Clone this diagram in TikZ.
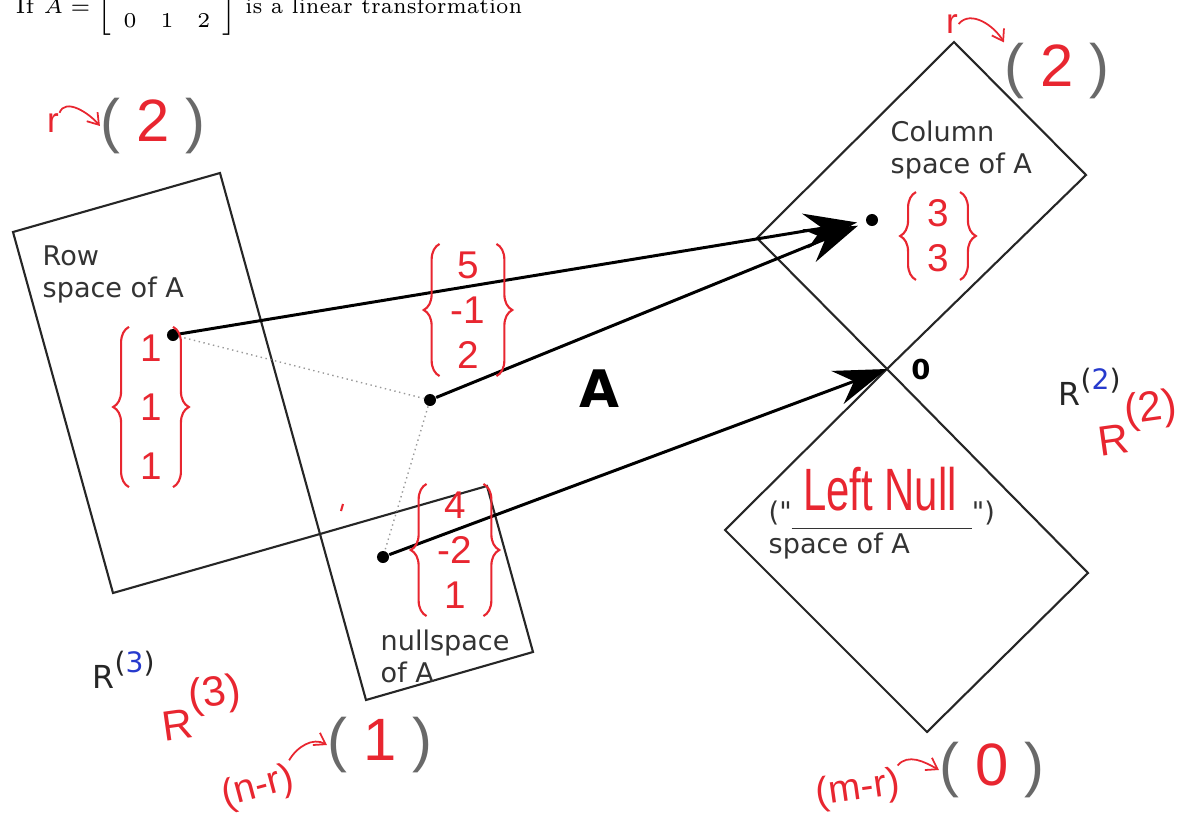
\documentclass[tikz,border=0pt]{standalone}
\usepackage{fontspec}
\usepackage{amsmath}
\usepackage{graphicx}
\usepackage{tikz}
\usetikzlibrary{arrows.meta, positioning, calc, decorations.pathreplacing}
\newfontfamily\printfont{DejaVu Sans}
\newfontfamily\penfont{Liberation Sans}
\definecolor{InkRed}{RGB}{232, 38, 48}
\definecolor{InkBlue}{RGB}{38, 58, 205}
\definecolor{Pencil}{RGB}{105, 105, 105}
\newcommand{\dimnum}[1]{{\color{Pencil}(}\hspace{4.5pt}{\color{InkRed}#1}\hspace{4.5pt}{\color{Pencil})}}

\begin{document}
\begin{tikzpicture}[
    x=0.01cm, y=-0.01cm,
    every node/.style={inner sep=0pt},
    subspace/.style={draw=black!85, line width=0.6pt},
    caption/.style={font=\printfont\fontsize{7.7}{9.2}\selectfont, text=black!80, align=left},
    vecdot/.style={circle, fill=black, minimum size=0.12cm},
    mapsto/.style={draw=black, line width=0.85pt, -{Stealth[length=15pt, width=10pt, inset=5pt]}},
    pen/.style={text=InkRed, font=\penfont\fontsize{11}{12.8}\selectfont},
    penvec/.style={pen, align=center, inner xsep=3pt, inner ysep=2pt},
    penbrace/.style={draw=InkRed, line width=0.6pt, decorate, decoration={brace, amplitude=4.5pt}},
    dimtext/.style={font=\penfont\fontsize{17}{17}\selectfont},
    curl/.style={draw=InkRed, line width=0.5pt, -{Straight Barb[length=3pt, width=4pt]}}
]
\useasboundingbox (0,0) rectangle (1184,821);

% question line at the top of the page
\node[anchor=base west, font=\fontsize{6.4}{7.6}\selectfont] (task) at (15,14)
  {If $A = \setlength{\arraycolsep}{3.4pt}\left[\begin{array}{ccc}\phantom{0} & & \\ 0 & 1 & 2\end{array}\right]$ \scalebox{0.9}[1]{is a linear transformation}};

% row space and nullspace
\coordinate (o3) at (320,534);
\draw[subspace] (13,232) -- (220,173) -- (o3) -- (113,593) -- cycle;
\draw[subspace] (o3) -- (487,486) -- (533,652) -- (366,700) -- cycle;

% column space and left nullspace
\coordinate (zero) at (887,369);
\draw[subspace] (954,42) -- (1086,175) -- (zero) -- (757,238) -- cycle;
\draw[subspace] (zero) -- (1088,573) -- (927,732) -- (725,530) -- cycle;

\node[caption, anchor=north west] (rowlbl) at (42,245) {Row\\space of A};
\node[caption, anchor=north west] (collbl) at (890,120) {Column\\space of A};
\node[caption, anchor=north west] (nulllbl) at (380,629) {nullspace\\of A};
\node[caption, anchor=north west] (leftlbl) at (768,500)
  {(\textquotedbl\rule[-2.3pt]{1.8cm}{0.5pt}\textquotedbl)\\space of A};

\node[font=\printfont\bfseries\fontsize{14.7}{15}\selectfont] (amap) at (600,389) {A};
\node[font=\printfont\bfseries\fontsize{7.8}{8}\selectfont] (zerolbl) at (921,370) {0};
\node[anchor=base west, font=\printfont\fontsize{9}{10}\selectfont, text=black!85] (rtwo) at (1058,405)
  {R\raisebox{4.5pt}{\fontsize{8}{9}\selectfont(\textcolor{InkBlue}{2})}};
\node[anchor=base west, font=\printfont\fontsize{9}{10}\selectfont, text=black!85] (rthree) at (92,688)
  {R\raisebox{4.5pt}{\fontsize{8}{9}\selectfont(\textcolor{InkBlue}{3})}};

% vectors
\node[vecdot] (xr) at (173,335) {};
\node[vecdot] (xfull) at (430,400) {};
\node[vecdot] (xn) at (383,557) {};
\node[vecdot] (bvec) at (872,220) {};

\draw[black!40, line width=0.4pt, densely dotted] (xr) -- (xfull) -- (xn);
\draw[mapsto, shorten >=2.4pt] (xr) -- (bvec);
\draw[mapsto, shorten >=2.4pt] (xfull) -- (bvec);
\draw[mapsto] (xn) -- (zero);

% handwritten notes
\node[penvec] (vr) at (151,407) {1\\[4pt]1\\[4pt]1};
\node[penvec] (vx) at (468,310) {5\\-1\\2};
\node[penvec] (vn) at (455,550) {4\\-2\\1};
\node[penvec] (vb) at (938,236) {3\\3};
\foreach \v in {vr, vx, vn, vb} {
  \draw[penbrace] (\v.south west) -- (\v.north west);
  \draw[penbrace] (\v.north east) -- (\v.south east);
}
\node[pen, font=\penfont\fontsize{17}{17}\selectfont] (leftnull) at (880,489) {\scalebox{0.7}[1]{Left Null}};
\node[pen, anchor=base west, rotate=8, font=\penfont\fontsize{12}{12}\selectfont] (rtwopen) at (1100,457)
  {R\raisebox{8pt}{(2)}};
\node[pen, anchor=base west, rotate=8, font=\penfont\fontsize{12}{12}\selectfont] (rthreepen) at (164,742)
  {R\raisebox{8pt}{(3)}};
\draw[InkRed, line width=0.6pt] (343,504) -- (341,511);

\node[dimtext] (rowdim) at (153,126) {\dimnum{2}};
\node[pen, font=\penfont\fontsize{10}{10}\selectfont] (rowr) at (53,123) {r};
\draw[curl] (rowr.north east) to[out=70, in=130] (rowdim.west);
\node[dimtext] (coldim) at (1057,71) {\dimnum{2}};
\node[pen, font=\penfont\fontsize{10}{10}\selectfont] (colr) at (952,24) {r};
\draw[curl] (colr.east) to[out=50, in=120] (coldim.north west);
\node[dimtext] (nulldim) at (380,745) {\dimnum{1}};
\node[pen, rotate=15, font=\penfont\fontsize{11}{11}\selectfont] (nullnr) at (258,788) {(n-r)};
\draw[curl] (nullnr.north east) to[out=60, in=150] (nulldim.west);
\node[dimtext] (lndim) at (992,770) {\dimnum{0}};
\node[pen, rotate=8, font=\penfont\fontsize{11}{11}\selectfont] (lnmr) at (858,790) {(m-r)};
\draw[curl] (lnmr.north east) to[out=50, in=150] (lndim.west);
\end{tikzpicture}
\end{document}
